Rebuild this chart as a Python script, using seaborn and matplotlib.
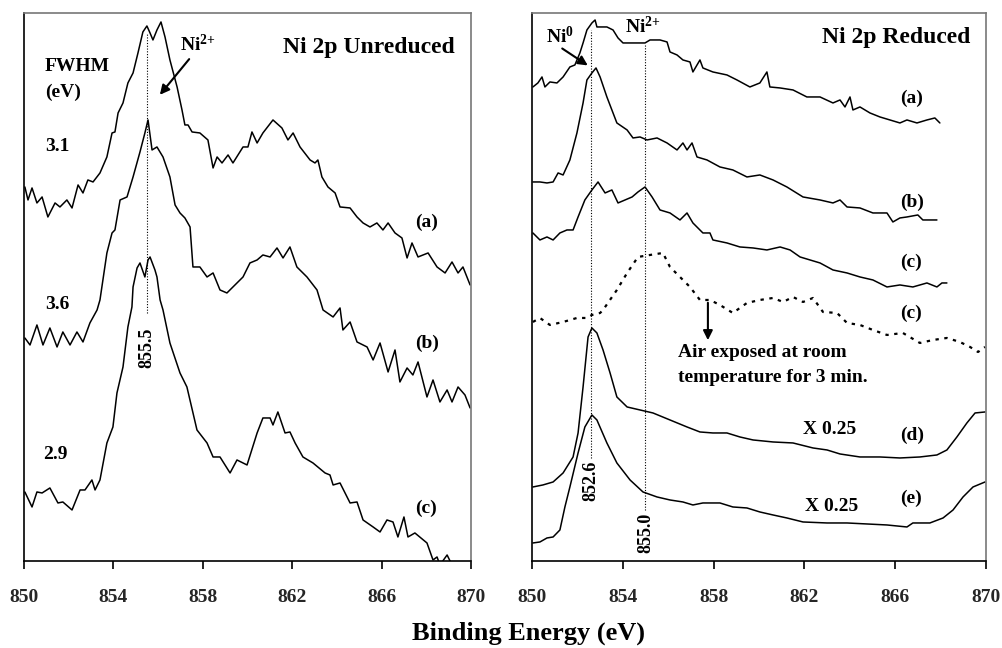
import matplotlib
matplotlib.use("Agg")
import matplotlib.pyplot as plt
import seaborn as sns
import pandas as pd

# ---------------- data (binding energy in eV, intensity in a.u.) ----------------
# Left panel: Ni 2p unreduced
un_a_E = [850.04, 850.18, 850.36, 850.58, 850.81, 851.07, 851.39, 851.61, 851.92, 852.15, 852.42, 852.64, 852.86, 853.09,
          853.40, 853.71, 853.94, 854.07, 854.21, 854.43, 854.65, 854.88, 855.10, 855.32, 855.50, 855.64, 855.77, 855.95,
          856.13, 856.31, 856.53, 856.85, 857.07, 857.20, 857.34, 857.52, 857.87, 858.23, 858.46, 858.64, 858.86, 859.13,
          859.35, 859.80, 860.02, 860.20, 860.43, 860.69, 861.14, 861.54, 861.81, 862.04, 862.35, 862.80, 863.02, 863.15,
          863.33, 863.60, 863.92, 864.14, 864.59, 864.90, 865.17, 865.48, 865.79, 866.06, 866.29, 866.60, 866.91, 867.14,
          867.36, 867.63, 868.08, 868.48, 868.84, 869.15, 869.42, 869.64, 869.96]
un_a_I = [374, 361, 373, 358, 364, 344, 358, 354, 361, 353, 376, 368, 381, 379,
          388, 404, 428, 429, 448, 458, 478, 488, 508, 529, 535, 528, 521, 531,
          539, 524, 501, 474, 451, 436, 436, 429, 428, 421, 393, 404, 398, 406,
          398, 414, 414, 429, 418, 428, 441, 433, 421, 428, 414, 401, 398, 401,
          384, 374, 368, 354, 353, 344, 338, 334, 338, 331, 338, 328, 323, 303,
          318, 304, 308, 294, 288, 299, 288, 294, 276]

un_b_E = [850.04, 850.27, 850.58, 850.85, 851.16, 851.48, 851.74, 852.06, 852.37, 852.64, 852.95, 853.27, 853.40, 853.71,
          853.94, 854.07, 854.30, 854.61, 854.88, 855.19, 855.41, 855.55, 855.73, 855.95, 856.22, 856.53, 856.76, 856.98,
          857.20, 857.43, 857.56, 857.87, 858.19, 858.46, 858.77, 859.08, 859.35, 859.80, 860.11, 860.43, 860.69, 861.01,
          861.32, 861.59, 861.90, 862.21, 862.66, 863.11, 863.38, 863.83, 864.14, 864.27, 864.59, 864.90, 865.35, 865.62,
          865.93, 866.29, 866.60, 866.82, 867.14, 867.40, 867.63, 868.03, 868.30, 868.61, 868.93, 869.15, 869.42, 869.73,
          869.96]
un_b_I = [223, 216, 236, 216, 233, 214, 229, 216, 229, 219, 238, 251, 261, 308,
          328, 331, 361, 364, 384, 409, 428, 441, 411, 414, 404, 384, 356, 348,
          343, 334, 294, 294, 284, 288, 271, 268, 274, 284, 298, 301, 306, 304,
          313, 303, 314, 294, 284, 271, 251, 244, 253, 231, 239, 219, 214, 201,
          218, 189, 211, 179, 193, 186, 199, 164, 181, 159, 171, 159, 174, 166,
          153]

un_c_E = [850.04, 850.36, 850.58, 850.81, 851.16, 851.52, 851.74, 852.15, 852.51, 852.73, 853.04, 853.18, 853.40, 853.71,
          853.98, 854.16, 854.43, 854.65, 854.83, 854.88, 855.06, 855.19, 855.41, 855.55, 855.64, 855.86, 855.95, 856.09,
          856.22, 856.53, 856.98, 857.29, 857.74, 858.19, 858.46, 858.77, 859.22, 859.53, 859.98, 860.43, 860.69, 861.01,
          861.14, 861.36, 861.68, 861.90, 862.13, 862.48, 862.93, 863.47, 863.69, 863.83, 864.14, 864.59, 864.90, 865.17,
          865.62, 865.93, 866.24, 866.51, 866.73, 867.00, 867.18, 867.49, 868.03, 868.30, 868.48, 868.61, 868.93, 869.15,
          869.42, 869.96]
un_c_I = [69, 54, 69, 68, 73, 58, 59, 51, 71, 71, 81, 71, 81, 118,
          134, 168, 194, 234, 254, 274, 293, 298, 284, 301, 304, 291, 284, 261,
          251, 218, 188, 174, 131, 118, 104, 104, 88, 101, 96, 128, 143, 143,
          136, 149, 128, 129, 118, 104, 98, 88, 86, 76, 78, 58, 59, 41,
          34, 29, 41, 39, 24, 44, 24, 28, 18, 1, 4, -4, 6, -4,
          -14, -19]

# Right panel: Ni 2p reduced
re_a_E = [850.04, 850.26, 850.44, 850.57, 850.79, 851.10, 851.37, 851.67, 851.89, 852.11, 852.25, 852.42, 852.64, 852.78,
          852.86, 853.30, 853.57, 853.79, 854.01, 854.45, 854.98, 855.20, 855.64, 855.95, 856.08, 856.39, 856.65, 856.96,
          857.09, 857.40, 857.53, 857.97, 858.59, 859.03, 859.60, 860.04, 860.35, 860.48, 860.93, 861.50, 862.11, 862.69,
          863.26, 863.57, 863.79, 864.01, 864.14, 864.45, 864.89, 865.33, 865.77, 866.21, 866.52, 866.96, 867.40, 867.75,
          867.97]
re_a_I = [474, 478, 484, 474, 479, 478, 484, 494, 496, 508, 518, 531, 538, 541,
          534, 534, 531, 523, 518, 518, 518, 521, 521, 519, 509, 506, 501, 499,
          489, 501, 493, 489, 486, 481, 474, 478, 489, 474, 473, 471, 464, 464,
          458, 461, 454, 464, 451, 454, 448, 444, 441, 438, 441, 438, 441, 443,
          438]

re_b_E = [850.04, 850.35, 850.66, 850.93, 851.15, 851.37, 851.67, 851.98, 852.25, 852.42, 852.64, 852.82, 853.00, 853.30,
          853.74, 854.19, 854.45, 854.76, 855.07, 855.51, 855.95, 856.39, 856.65, 856.83, 857.05, 857.27, 857.71, 858.28,
          858.85, 859.47, 860.04, 860.62, 861.23, 861.94, 862.69, 863.26, 863.57, 863.88, 864.45, 865.02, 865.64, 865.90,
          866.21, 866.52, 867.00, 867.22, 867.84]
re_b_I = [379, 379, 378, 379, 388, 386, 401, 428, 458, 481, 488, 493, 484, 464,
          438, 431, 423, 424, 421, 423, 418, 411, 418, 411, 418, 404, 401, 394,
          391, 384, 386, 381, 374, 364, 361, 358, 361, 354, 353, 348, 348, 339,
          343, 344, 346, 341, 341]

re_c_E = [850.04, 850.35, 850.66, 850.93, 851.23, 851.54, 851.81, 852.03, 852.33, 852.64, 852.91, 853.22, 853.52, 853.79,
          854.10, 854.41, 854.67, 854.98, 855.29, 855.64, 856.08, 856.52, 856.83, 857.09, 857.53, 857.84, 857.97, 858.59,
          859.16, 859.74, 860.35, 860.93, 861.37, 861.81, 862.25, 862.69, 863.26, 863.88, 864.45, 865.02, 865.64, 866.21,
          866.78, 867.40, 867.84, 868.06, 868.28]
re_c_I = [328, 321, 324, 321, 328, 331, 331, 344, 361, 371, 379, 368, 371, 358,
          361, 364, 369, 374, 364, 351, 348, 341, 348, 338, 328, 328, 321, 318,
          314, 313, 311, 314, 311, 304, 301, 298, 291, 288, 284, 281, 274, 276,
          274, 278, 274, 278, 278]

re_air_E = [850.04, 850.35, 850.79, 851.37, 851.98, 852.42, 852.64, 853.00, 853.13, 853.74, 854.19, 854.67, 855.20, 855.77,
            856.08, 856.52, 856.96, 857.40, 857.84, 858.28, 858.85, 859.47, 860.04, 860.62, 861.06, 861.50, 861.94, 862.38,
            862.82, 863.44, 863.88, 864.45, 865.02, 865.64, 866.34, 867.09, 867.67, 868.28, 868.85, 869.30, 869.65, 869.96]
re_air_I = [239, 243, 236, 239, 243, 243, 246, 248, 251, 271, 288, 304, 306, 308,
            294, 284, 274, 261, 261, 256, 248, 258, 261, 263, 259, 264, 259, 263,
            249, 248, 238, 236, 231, 226, 228, 218, 221, 223, 219, 214, 209, 214]

re_d_E = [850.04, 850.48, 850.93, 851.37, 851.81, 852.03, 852.25, 852.47, 852.64, 852.86, 853.13, 853.44, 853.74, 854.19,
          854.76, 855.33, 856.08, 856.83, 857.40, 857.97, 858.59, 859.16, 859.74, 860.62, 861.50, 862.38, 863.00, 863.57,
          864.45, 865.33, 866.21, 867.09, 867.84, 868.28, 868.72, 869.16, 869.52, 869.96]
re_d_I = [74, 76, 79, 88, 104, 128, 174, 224, 233, 228, 211, 188, 164, 154,
          151, 148, 141, 134, 129, 128, 128, 124, 121, 119, 118, 113, 111, 107,
          104, 104, 103, 104, 106, 111, 124, 138, 148, 149]

re_e_E = [850.04, 850.35, 850.66, 850.93, 851.23, 851.45, 851.67, 852.03, 852.33, 852.64, 852.86, 853.30, 853.74, 854.32,
          854.89, 855.51, 856.08, 856.65, 857.09, 857.53, 858.28, 858.85, 859.47, 860.04, 860.62, 861.23, 861.94, 863.00,
          863.88, 864.76, 865.64, 866.52, 866.78, 867.53, 868.11, 868.55, 868.99, 869.43, 869.96]
re_e_I = [18, 19, 23, 24, 31, 54, 74, 108, 134, 146, 141, 118, 98, 81,
          69, 64, 61, 59, 56, 58, 58, 54, 53, 49, 46, 43, 39, 38,
          38, 37, 36, 34, 38, 38, 43, 51, 64, 74, 79]

x_ticks = [850, 854, 858, 862, 866, 870]
x_label = "Binding Energy (eV)"

# ---------------- style ----------------
sns.set_theme(style="white")
plt.rcParams["font.family"] = ["Liberation Serif", "DejaVu Serif"]
plt.rcParams["font.weight"] = "bold"
plt.rcParams["mathtext.fontset"] = "custom"
plt.rcParams["mathtext.rm"] = "Liberation Serif:bold"
plt.rcParams["mathtext.it"] = "Liberation Serif:bold"
plt.rcParams["mathtext.bf"] = "Liberation Serif:bold"

fig = plt.figure(figsize=(10.03, 6.48), dpi=100)
axL = fig.add_axes([0.0239, 0.1343, 0.4457, 0.8457])
axR = fig.add_axes([0.5304, 0.1343, 0.4526, 0.8457])

LW = 1.1
def draw(ax, E, I, ls="-", lw=LW):
    df = pd.DataFrame({"E": E, "I": I})
    sns.lineplot(data=df, x="E", y="I", ax=ax, color="black", lw=lw,
                 linestyle=ls, estimator=None, sort=False)

draw(axL, un_a_E, un_a_I)
draw(axL, un_b_E, un_b_I)
draw(axL, un_c_E, un_c_I)

draw(axR, re_a_E, re_a_I)
draw(axR, re_b_E, re_b_I)
draw(axR, re_c_E, re_c_I)
draw(axR, re_air_E, re_air_I, ls=(0, (1.5, 2.5)), lw=1.6)
draw(axR, re_d_E, re_d_I)
draw(axR, re_e_E, re_e_I)

for ax in (axL, axR):
    ax.set_xlim(850, 870)
    ax.set_ylim(0, 548)
    ax.set_xticks(x_ticks)
    ax.set_xticklabels([str(t) for t in x_ticks], fontsize=14, fontweight="bold")
    ax.set_yticks([])
    ax.set_xlabel("")
    ax.set_ylabel("")
    ax.tick_params(axis="x", direction="out", length=6, width=1.2, color="black",
                   bottom=True, pad=14)
    ax.spines["left"].set_color("black")
    ax.spines["bottom"].set_color("black")
    ax.spines["top"].set_color("#777777")
    ax.spines["right"].set_color("#777777")
    for s in ax.spines.values():
        s.set_linewidth(1.2)
    ax.set_facecolor("white")

TXT = dict(fontweight="bold", color="black")

# Left panel annotations
axL.vlines(855.5, 248, 528, colors="black", linestyles=(0, (1, 1.5)), lw=0.8)
axL.text(855.5, 213, "855.5", rotation=90, ha="center", va="center", fontsize=13, **TXT)
axL.text(869.28, 513, "Ni 2p Unreduced", ha="right", va="center", fontsize=17, **TXT)
axL.text(857.79, 516, r"Ni$^{2{+}}$", ha="center", va="center", fontsize=14, **TXT)
axL.annotate("", xy=(856.0, 464), xytext=(857.47, 504),
             arrowprops=dict(arrowstyle="-|>", color="black", lw=1.5, mutation_scale=14))
axL.text(850.94, 494, "FWHM", ha="left", va="center", fontsize=14, **TXT)
axL.text(850.94, 469, "(eV)", ha="left", va="center", fontsize=14, **TXT)
axL.text(850.94, 414, "3.1", ha="left", va="center", fontsize=14, **TXT)
axL.text(850.94, 256, "3.6", ha="left", va="center", fontsize=14, **TXT)
axL.text(850.85, 106, "2.9", ha="left", va="center", fontsize=14, **TXT)
axL.text(867.49, 339, "(a)", ha="left", va="center", fontsize=14, **TXT)
axL.text(867.49, 218, "(b)", ha="left", va="center", fontsize=14, **TXT)
axL.text(867.49, 53, "(c)", ha="left", va="center", fontsize=14, **TXT)

# Right panel annotations
axR.vlines(852.6, 103, 531, colors="black", linestyles=(0, (1, 1.5)), lw=0.8)
axR.vlines(855.0, 51, 516, colors="black", linestyles=(0, (1, 1.5)), lw=0.8)
axR.text(852.6, 80, "852.6", rotation=90, ha="center", va="center", fontsize=13, **TXT)
axR.text(855.0, 28, "855.0", rotation=90, ha="center", va="center", fontsize=13, **TXT)
axR.text(869.30, 523, "Ni 2p Reduced", ha="right", va="center", fontsize=17, **TXT)
axR.text(851.23, 524, r"Ni$^{0}$", ha="center", va="center", fontsize=14, **TXT)
axR.text(854.89, 534, r"Ni$^{2{+}}$", ha="center", va="center", fontsize=14, **TXT)
axR.annotate("", xy=(852.56, 494), xytext=(851.23, 514),
             arrowprops=dict(arrowstyle="-|>", color="black", lw=1.5, mutation_scale=14))
axR.annotate("", xy=(857.75, 218), xytext=(857.75, 261),
             arrowprops=dict(arrowstyle="-|>", color="black", lw=1.5, mutation_scale=14))
axR.text(856.43, 208, "Air exposed at room", ha="left", va="center", fontsize=14, **TXT)
axR.text(856.43, 183, "temperature for 3 min.", ha="left", va="center", fontsize=14, **TXT)
for lab, yy in [("(a)", 463), ("(b)", 359), ("(c)", 299), ("(c)", 248), ("(d)", 126), ("(e)", 63)]:
    axR.text(866.21, yy, lab, ha="left", va="center", fontsize=14, **TXT)
axR.text(861.94, 131, "X 0.25", ha="left", va="center", fontsize=14, **TXT)
axR.text(862.03, 54, "X 0.25", ha="left", va="center", fontsize=14, **TXT)

fig.text(528 / 1003, 1 - 633 / 648, x_label, ha="center", va="center", fontsize=19, **TXT)

fig.savefig("out.png", dpi=100, facecolor="white")
